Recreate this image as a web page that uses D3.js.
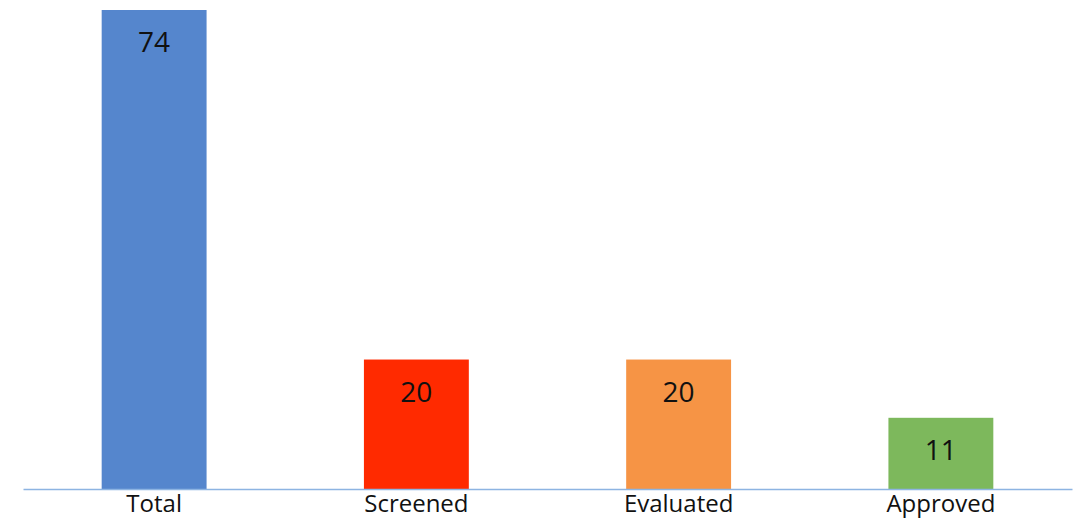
<!DOCTYPE html>
<html><head><meta charset="utf-8">
<script src="https://cdn.jsdelivr.net/npm/d3@7"></script>
<style>html,body{margin:0;padding:0;background:#fff;}svg{display:block;}</style>
</head><body>
<svg id="chart" width="1074" height="518"></svg>
<script>
const categories = ["Total", "Screened", "Evaluated", "Approved"];
const values = [74, 20, 20, 11];
const colors = ["#5586cd", "#ff2a00", "#f69445", "#7db85c"];

const svg = d3.select("#chart");
const baseline = 489;
const x = d3.scaleBand().domain(categories).range([23, 1072]).paddingInner(0.6).paddingOuter(0.3);
const y = d3.scaleLinear().domain([0, 74]).range([baseline, 10]);
const font = "'Open Sans', 'Noto Sans', sans-serif";

svg.selectAll("rect.bar").data(categories).join("rect")
  .attr("class", "bar")
  .attr("x", d => x(d))
  .attr("width", x.bandwidth())
  .attr("y", (d, i) => y(values[i]))
  .attr("height", (d, i) => baseline - y(values[i]))
  .attr("fill", (d, i) => colors[i]);

svg.selectAll("text.val").data(categories).join("text")
  .attr("class", "val")
  .attr("x", d => x(d) + x.bandwidth() / 2)
  .attr("y", (d, i) => y(values[i]) + 42)
  .attr("text-anchor", "middle")
  .attr("font-family", font)
  .attr("font-size", 28)
  .attr("fill", "#111")
  .text((d, i) => values[i]);

const axis = d3.axisBottom(x).tickSize(0).tickPadding(0);
const g = svg.append("g").attr("transform", `translate(0,${baseline})`).call(axis);
g.select(".domain").attr("stroke", "#8db4e2").attr("stroke-width", 1.5);
g.selectAll(".tick text")
  .attr("font-family", font)
  .attr("font-size", 24)
  .attr("fill", "#111")
  .attr("dy", null)
  .attr("y", 23);
</script>
</body></html>
